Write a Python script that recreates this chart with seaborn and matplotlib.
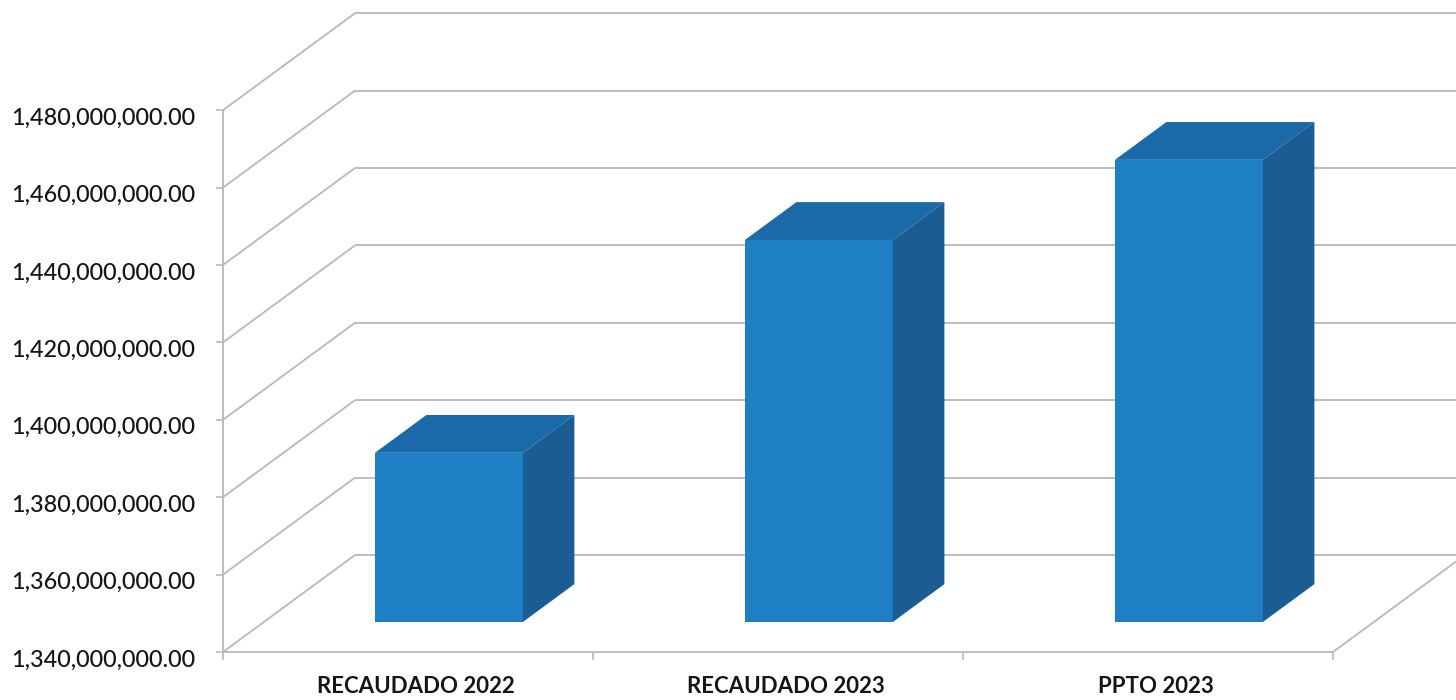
import matplotlib
matplotlib.use("Agg")
import matplotlib.pyplot as plt
import seaborn as sns
import pandas as pd
from matplotlib.patches import Polygon
from matplotlib.ticker import FuncFormatter
from matplotlib.transforms import ScaledTranslation

# ---- data ----
categories = ["RECAUDADO 2022", "RECAUDADO 2023", "PPTO 2023"]
values = [1383_700_000, 1438_700_000, 1459_400_000]
y_ticks = [1_340_000_000, 1_360_000_000, 1_380_000_000, 1_400_000_000,
           1_420_000_000, 1_440_000_000, 1_460_000_000, 1_480_000_000]

# ---- style ----
FRONT = "#1f7fc4"
TOP = "#1a6aa9"
SIDE = "#1b5d93"
GRID = "#b8b8b8"
TEXT = "#151515"

sns.set_theme(style="white")
plt.rcParams['font.family'] = ['Lato', 'DejaVu Sans']

W, H = 1456, 700
fig = plt.figure(figsize=(W / 100, H / 100), dpi=100)
ax_left_px, ax_bottom_px = 223, 652       # pixel position of the front axis origin
px_per_cat = 370.0
px_per_step = 77.4                         # pixels per 20M
ax = fig.add_axes([ax_left_px / W, (H - ax_bottom_px) / H,
                   (W - ax_left_px) / W, ax_bottom_px / H])

df = pd.DataFrame({"cat": categories, "val": values})
sns.barplot(data=df, x="cat", y="val", width=0.40, color=FRONT, saturation=1,
            linewidth=0, ax=ax, zorder=3)

base = y_ticks[0]
step = y_ticks[1] - y_ticks[0]
xmin = -0.5
xmax = xmin + (W - ax_left_px) / px_per_cat
ymax = base + ax_bottom_px / px_per_step * step
ax.set_xlim(xmin, xmax)
ax.set_ylim(base, ymax)

# depth of the 3D wall (oblique projection) in data units
DX = 132 / px_per_cat
DY = 97 / px_per_step * step
f0, f1 = 0.31, 0.70   # bar front / back depth fractions

for patch, v in zip(ax.patches, values):
    x0 = patch.get_x()
    w = patch.get_width()
    patch.set_x(x0 + f0 * DX)
    patch.set_y(base + f0 * DY)
    patch.set_height(v - base)
    xl, xr = x0 + f0 * DX, x0 + w + f0 * DX
    xl1, xr1 = x0 + f1 * DX, x0 + w + f1 * DX
    top = Polygon([(xl, v + f0 * DY), (xr, v + f0 * DY),
                   (xr1, v + f1 * DY), (xl1, v + f1 * DY)],
                  closed=True, facecolor=TOP, edgecolor="none", zorder=3)
    side = Polygon([(xr, base + f0 * DY), (xr1, base + f1 * DY),
                    (xr1, v + f1 * DY), (xr, v + f0 * DY)],
                   closed=True, facecolor=SIDE, edgecolor="none", zorder=3)
    ax.add_patch(top)
    ax.add_patch(side)

# walls / gridlines
n_cat = len(categories)
for t in y_ticks:
    ax.plot([xmin, xmin + DX], [t, t + DY], color=GRID, lw=1.3, zorder=1,
            solid_capstyle="butt")
    ax.plot([xmin + DX, xmax + 1], [t + DY, t + DY], color=GRID, lw=1.3,
            zorder=1, solid_capstyle="butt")
ax.plot([n_cat - 0.5, n_cat - 0.5 + DX], [base, base + DY], color=GRID,
        lw=1.3, zorder=1)

# spines
for s in ["top", "right"]:
    ax.spines[s].set_visible(False)
ax.spines["left"].set_bounds(y_ticks[0], y_ticks[-1])
ax.spines["bottom"].set_bounds(-0.5, n_cat - 0.5)
for s in ["left", "bottom"]:
    ax.spines[s].set_color(GRID)
    ax.spines[s].set_linewidth(1.3)

# y axis
ax.set_yticks(y_ticks)
ax.yaxis.set_major_formatter(FuncFormatter(lambda v, p: f"{v:,.2f}"))
ax.tick_params(axis="y", left=True, length=5, width=1.2, color=GRID,
               pad=15, labelsize=16.8, labelcolor=TEXT)
for lab in ax.get_yticklabels():
    lab.set_fontweight("medium")
    lab.set_transform(lab.get_transform() +
                      ScaledTranslation(0, -6 / 100, fig.dpi_scale_trans))

# x axis
ax.set_xticks(range(n_cat), categories)
ax.set_xticks([i - 0.5 for i in range(n_cat + 1)], minor=True)
ax.tick_params(axis="x", which="major", bottom=False, length=0, pad=17,
               labelsize=16, labelcolor=TEXT)
ax.tick_params(axis="x", which="minor", bottom=True, length=6, width=1.2,
               color=GRID)
for lab in ax.get_xticklabels():
    lab.set_fontweight("bold")
    lab.set_transform(lab.get_transform() +
                      ScaledTranslation(8 / 100, 0, fig.dpi_scale_trans))

ax.set_xlabel("")
ax.set_ylabel("")
ax.set_facecolor("white")
fig.patch.set_facecolor("white")

fig.savefig("out.png", dpi=100)
